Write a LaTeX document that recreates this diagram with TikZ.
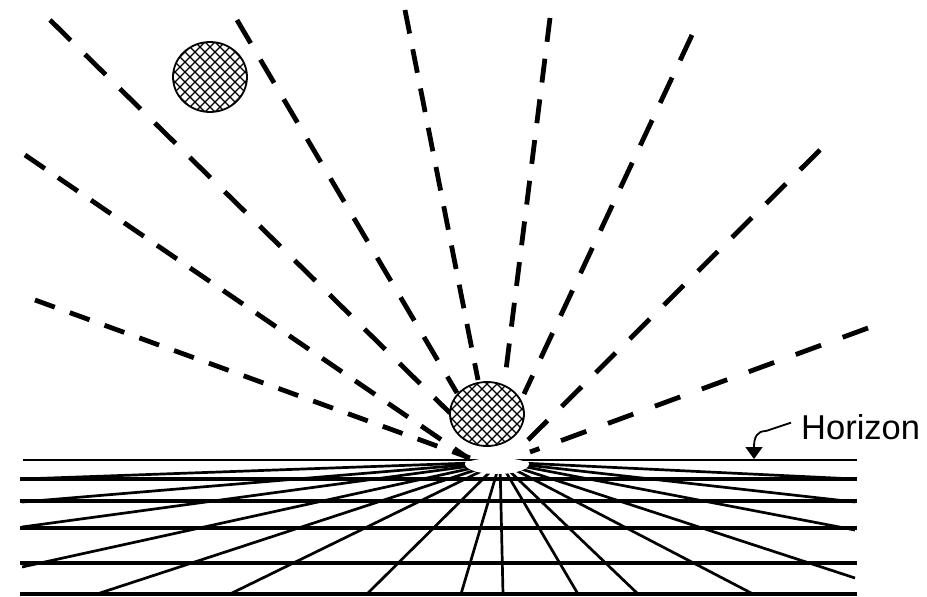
\documentclass[tikz,border=0pt]{standalone}
\usepackage{fontspec}
\setmainfont{Liberation Sans}
\usetikzlibrary{arrows.meta}
\newcommand\hatchball[4]{%
  \begin{scope}
    \clip (#1,#2) ellipse [x radius=#3, y radius=#4];
    \foreach \k in {-90,-80,...,90}{
      \draw[hatchline] (#1+\k-45,#2-45) -- (#1+\k+45,#2+45);
      \draw[hatchline] (#1+\k-45,#2+45) -- (#1+\k+45,#2-45);
    }
  \end{scope}
  \draw[line width=1.8pt] (#1,#2) ellipse [x radius=#3, y radius=#4];
}
\begin{document}
\begin{tikzpicture}[x=1pt,y=-1pt,
  ray/.style={line width=4.8pt},
  gridline/.style={line width=2.7pt},
  hline/.style={line width=3.3pt},
  hatchline/.style={line width=1.4pt},
  lead/.style={line width=1.8pt}]
\useasboundingbox[fill=white] (0,0) rectangle (927,597);
\coordinate (vp) at (500,462);
% radial grid lines
\foreach \p in {(22,479),(22,502),(22,527),(22,567),(97,594),(230,594),(367,594),(461,594),
                (503,594),(578,594),(638,594),(753,594),(855,578),(855,530),(855,502),(855,479)}
  \draw[gridline] (vp) -- \p;
\fill[white] (497,464) ellipse [x radius=32, y radius=10];
% horizon and horizontal lines
\coordinate (hl) at (23,460); \coordinate (hr) at (857,460);
\draw[line width=2pt] (hl) -- (hr);
\fill[white] (497,464) ellipse [x radius=30, y radius=6];
\foreach \y in {479,501,528,563,594}
  \draw[hline] (20,\y) -- (857,\y);
% dashed rays
\draw[ray, dash pattern=on 29pt off 20pt] (50,20) -- (450,413);
\draw[ray, dash pattern=on 27pt off 19pt] (237,20) -- (457,393);
\draw[ray, dash pattern=on 24pt off 16pt] (405,10) -- (478,380);
\draw[ray, dash pattern=on 24pt off 17pt] (550,18) -- (505,378);
\draw[ray, dash pattern=on 28pt off 19pt] (692,35) -- (524,394);
\draw[ray, dash pattern=on 28pt off 20pt] (820,150) -- (528,440);
\draw[ray, dash pattern=on 27pt off 23pt] (868,328) -- (530,452);
\draw[ray, dash pattern=on 24pt off 16pt] (25,155) -- (468,458);
\draw[ray, dash pattern=on 21pt off 16pt] (35,300) -- (470,458);
% spheres
\hatchball{210}{77}{37}{35}
\fill[white] (487,414) ellipse [x radius=37, y radius=32];
\hatchball{487}{414}{37}{32}
% label
\node[font=\fontsize{34.5}{38}\selectfont, anchor=base west, inner sep=0pt] (lbl) at (801,439) {Horizon};
\coordinate (tip) at (754,459);
\draw[lead, -{Triangle[width=17pt,length=12pt]}] (lbl.west) ++(-10,-4) coordinate (ls) -- (766,431) .. controls (757,431) and (754,437) .. (tip);
\end{tikzpicture}
\end{document}
